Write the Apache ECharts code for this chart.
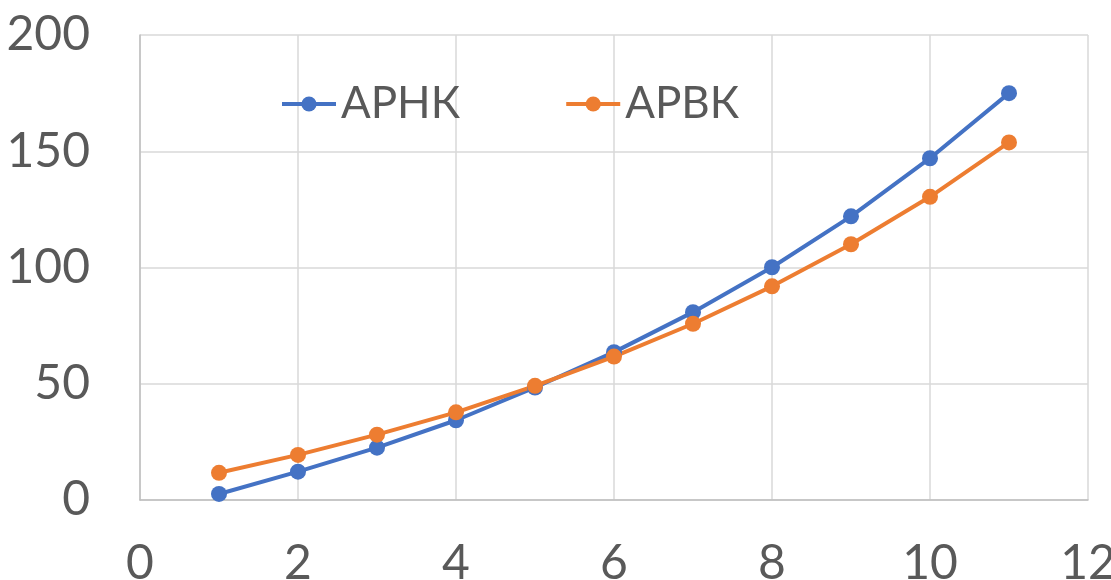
<!DOCTYPE html>
<html>
<head>
<meta charset="utf-8">
<script src="https://cdn.jsdelivr.net/npm/echarts@6/dist/echarts.min.js"></script>
<style>html,body{margin:0;padding:0;background:#fff}#c{width:1111px;height:580px}</style>
</head>
<body>
<div id="c"></div>
<script>
const xValues = [1, 2, 3, 4, 5, 6, 7, 8, 9, 10, 11];
const arnk = [2.6, 12.2, 22.5, 34.3, 48.4, 63.6, 80.8, 100.1, 122, 147, 175];
const arvk = [11.7, 19.4, 28.1, 37.7, 49.1, 61.7, 75.8, 91.9, 110, 130.4, 153.8];
const seriesNames = ['АРНК', 'АРВК'];
const colors = ['#4472C4', '#ED7D31'];

const font = 'Lato, Carlito, "Open Sans", sans-serif';
const chart = echarts.init(document.getElementById('c'), null, {renderer: 'canvas'});
const mk = (vals) => xValues.map((x, i) => [x, vals[i]]);
chart.setOption({
  animation: false,
  color: colors,
  grid: {left: 140, right: 23, top: 35, bottom: 80, containLabel: false, outerBoundsMode: 'none'},
  legend: {
    left: 280, top: 82, padding: 0,
    itemWidth: 54, itemHeight: 19, itemGap: 104,
    lineStyle: {width: 4},
    textStyle: {fontFamily: font, fontSize: 44, color: '#595959'},
    data: seriesNames
  },
  xAxis: {
    type: 'value', min: 0, max: 12, interval: 2,
    axisLine: {show: true, lineStyle: {color: '#BFBFBF', width: 1.5}},
    axisTick: {show: false},
    splitLine: {show: true, lineStyle: {color: '#D9D9D9', width: 1.5}},
    axisLabel: {fontFamily: font, fontSize: 48, color: '#595959', margin: 40}
  },
  yAxis: {
    type: 'value', min: 0, max: 200, interval: 50,
    axisLine: {show: true, lineStyle: {color: '#BFBFBF', width: 1.5}},
    axisTick: {show: false},
    splitLine: {show: true, lineStyle: {color: '#D9D9D9', width: 1.5}},
    axisLabel: {fontFamily: font, fontSize: 48, color: '#595959', margin: 50}
  },
  series: [
    {name: seriesNames[0], type: 'line', data: mk(arnk), symbol: 'circle', symbolSize: 16,
     lineStyle: {width: 4, color: colors[0]}, itemStyle: {color: colors[0]}},
    {name: seriesNames[1], type: 'line', data: mk(arvk), symbol: 'circle', symbolSize: 16,
     lineStyle: {width: 4, color: colors[1]}, itemStyle: {color: colors[1]}}
  ]
});
</script>
</body>
</html>
